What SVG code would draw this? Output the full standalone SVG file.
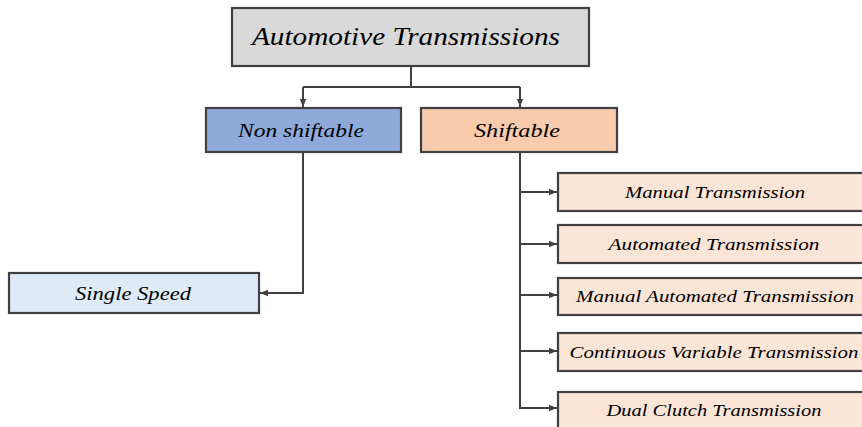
<svg xmlns="http://www.w3.org/2000/svg" width="862" height="427" viewBox="0 0 862 427">
<style>
.box{stroke:#404040;stroke-width:2.2}
.t{font-family:"Liberation Serif","DejaVu Serif",serif;font-style:italic;fill:#000;text-anchor:middle}
.c{fill:none;stroke:#404040;stroke-width:2}
.child{fill:#fbe5d6}
</style>
<defs>
<marker id="ah" viewBox="0 0 10 10" refX="10" refY="5" markerWidth="4" markerHeight="4" orient="auto" markerUnits="strokeWidth">
<path d="M0,1 L10,5 L0,9 Z" fill="#404040"/>
</marker>
</defs>
<g id="connectors">
<path class="c" d="M411,66 V87 M303,87 H520" />
<path class="c" d="M303,87 V107" marker-end="url(#ah)"/>
<path class="c" d="M520,87 V107" marker-end="url(#ah)"/>
<path class="c" d="M303,152 V293 H260" marker-end="url(#ah)"/>
<path class="c" d="M520,152 V408" />
<path class="c" d="M520,192 H557" marker-end="url(#ah)"/>
<path class="c" d="M520,244 H557" marker-end="url(#ah)"/>
<path class="c" d="M520,295 H557" marker-end="url(#ah)"/>
<path class="c" d="M520,351 H557" marker-end="url(#ah)"/>
<path class="c" d="M519,408 H557" marker-end="url(#ah)"/>
</g>
<g id="root">
<rect class="box" x="232" y="8" width="357" height="58" fill="#d9d9d9"/>
<text class="t" x="406" y="45" font-size="25" textLength="308" lengthAdjust="spacingAndGlyphs">Automotive Transmissions</text>
</g>
<g id="nonshiftable">
<rect class="box" x="206" y="108" width="195" height="44" fill="#8eaadb"/>
<text class="t" x="301" y="137" font-size="19" textLength="126" lengthAdjust="spacingAndGlyphs">Non shiftable</text>
</g>
<g id="shiftable">
<rect class="box" x="421" y="108" width="196" height="44" fill="#f8cbad"/>
<text class="t" x="517" y="137" font-size="19" textLength="86" lengthAdjust="spacingAndGlyphs">Shiftable</text>
</g>
<g id="singlespeed">
<rect class="box" x="9" y="273" width="250" height="40" fill="#deebf7"/>
<text class="t" x="133" y="300" font-size="18" textLength="116" lengthAdjust="spacingAndGlyphs">Single Speed</text>
</g>
<g id="manual">
<rect class="box child" x="558" y="173" width="320" height="38"/>
<text class="t" x="715" y="198" font-size="16" textLength="180" lengthAdjust="spacingAndGlyphs">Manual Transmission</text>
</g>
<g id="automated">
<rect class="box child" x="558" y="225" width="320" height="38"/>
<text class="t" x="714" y="250" font-size="16" textLength="211" lengthAdjust="spacingAndGlyphs">Automated Transmission</text>
</g>
<g id="manualautomated">
<rect class="box child" x="558" y="278" width="320" height="37"/>
<text class="t" x="715" y="302" font-size="16" textLength="278" lengthAdjust="spacingAndGlyphs">Manual Automated Transmission</text>
</g>
<g id="cvt">
<rect class="box child" x="558" y="333" width="320" height="38"/>
<text class="t" x="714" y="358" font-size="16" textLength="289" lengthAdjust="spacingAndGlyphs">Continuous Variable Transmission</text>
</g>
<g id="dct">
<rect class="box child" x="558" y="392" width="320" height="40"/>
<text class="t" x="714" y="416" font-size="16" textLength="215" lengthAdjust="spacingAndGlyphs">Dual Clutch Transmission</text>
</g>
</svg>
